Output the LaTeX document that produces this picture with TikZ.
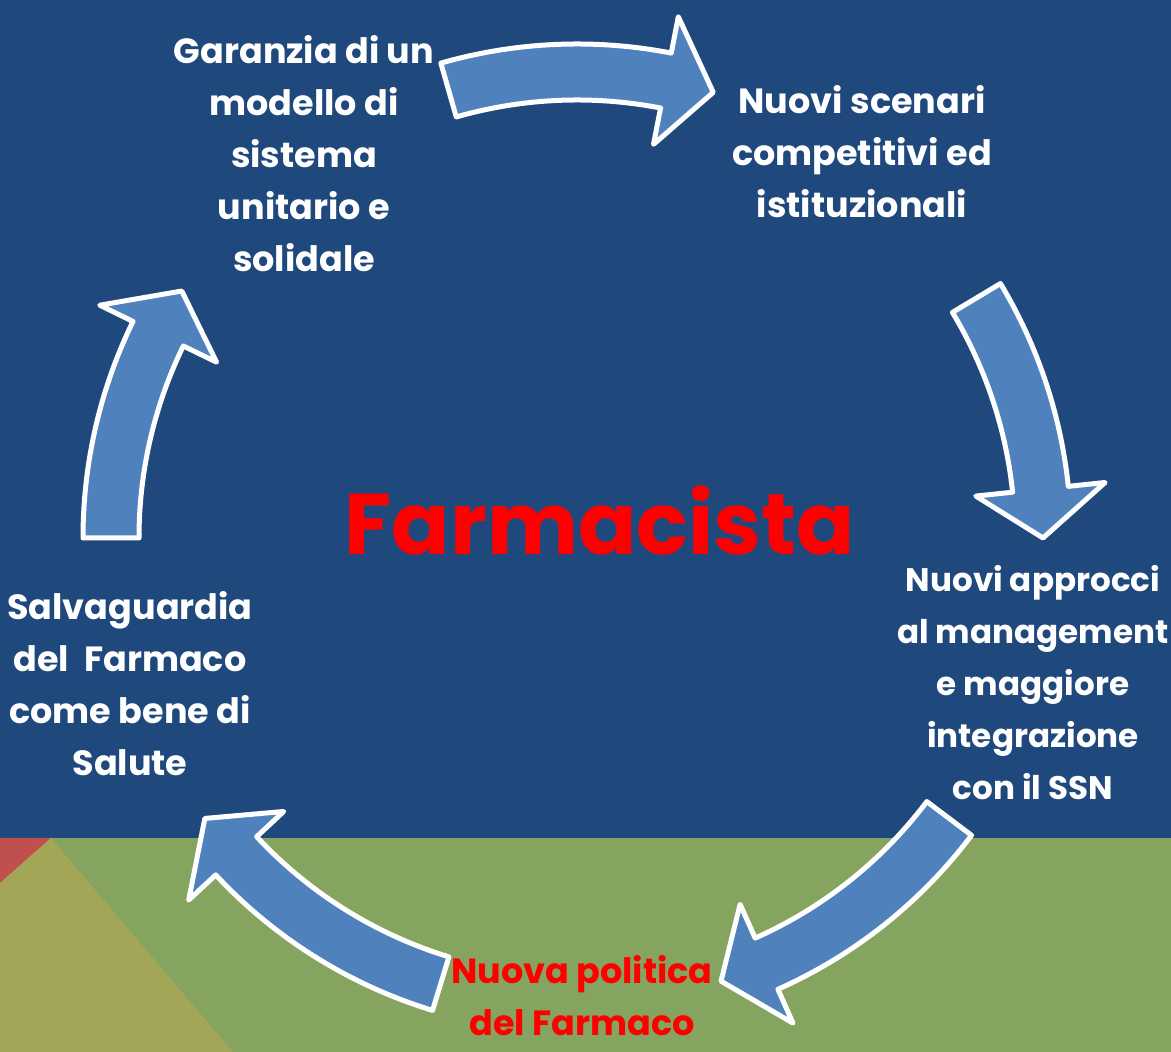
\documentclass[tikz,border=0pt]{standalone}
\usepackage{fontspec}
\setmainfont{Poppins}
\usetikzlibrary{calc}
\definecolor{slideblue}{HTML}{1F497D}
\definecolor{slidegreen}{HTML}{84A460}
\definecolor{slideolive}{HTML}{A2A656}
\definecolor{slidered}{HTML}{C0504D}
\definecolor{arrowblue}{HTML}{4F81BD}
\tikzset{
	cyclearr/.style={fill=arrowblue, draw=white, line width=2.5pt, line join=round},
	cycletext/.style={text=white, font=\bfseries\fontsize{17.5}{26}\selectfont, align=center, inner sep=0pt}
}
% curved block arrow round a centre: (centre)(tail angle:tip angle)
\def\cyclearrow(#1)(#2:#3){\draw[cyclearr] ($(#1)+(#2:494)$) arc[start angle=#2, end angle=#3+6, radius=494] -- ($(#1)+(#3+6:531)$) -- ($(#1)+(#3:466)$) -- ($(#1)+(#3+6:401)$) -- ($(#1)+(#3+6:438)$) arc[start angle=#3+6, end angle=#2, radius=438] -- cycle;}

\begin{document}
\begin{tikzpicture}[x=0.5pt, y=0.5pt]
			%%%%% START %%%%%
			\useasboundingbox (0, 0) rectangle (1171, 1052);
			
			\fill[slideblue] (0, 214) rectangle (1171, 1052);
			\fill[slidegreen] (0, 0) rectangle (1171, 214);
			\fill[slidered] (0, 214) -- (51, 214) -- (0, 169) -- cycle;
			\fill[slideolive] (0, 169) -- (51, 214) -- (233, 0) -- (0, 0) -- cycle;
			
			\coordinate (ctr) at (577, 514);
			
			\cyclearrow(ctr)(106:73)
			\cyclearrow(ctr)(31:0)
			\cyclearrow(ctr)(-37:-72)
			\cyclearrow(ctr)(253:217)
			\cyclearrow(ctr)(180:148)
			
			\node[text=red, font=\bfseries\fontsize{43}{48}\selectfont, inner sep=0pt] (farmacista) at (600, 532) {Farmacista};
			
			\node[cycletext] (garanzia) at (304, 898) {Garanzia di un\\modello di\\sistema\\unitario e\\solidale};
			\node[cycletext] (scenari) at (862, 900) {Nuovi scenari\\competitivi ed\\istituzionali};
			\node[cycletext, font=\bfseries\fontsize{16.3}{26}\selectfont] (approcci) at (1033, 369) {Nuovi approcci\\al management\\e maggiore\\integrazione\\con il SSN};
			\node[cycletext, text=red] (politica) at (582, 56) {Nuova politica\\del Farmaco};
			\node[cycletext] (salvaguardia) at (130, 368) {Salvaguardia\\del~ Farmaco\\come bene di\\Salute};
			
			%%%%% END %%%%%
		\end{tikzpicture}
\end{document}
